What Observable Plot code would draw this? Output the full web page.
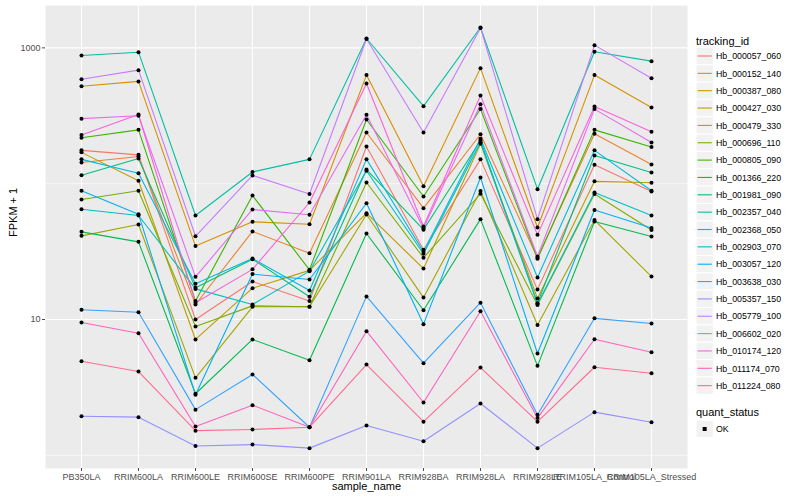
<!DOCTYPE html>
<html>
<head>
<meta charset="utf-8">
<script src="https://cdn.jsdelivr.net/npm/d3@7"></script>
<script src="https://cdn.jsdelivr.net/npm/@observablehq/plot@0.6"></script>
<style>
  html, body { margin: 0; padding: 0; background: white; }
  #wrap { position: relative; width: 800px; height: 500px; font-family: "Liberation Sans", Arial, sans-serif; }
  #chart { position: absolute; left: 0; top: 0; }
  #legend { position: absolute; left: 0; top: 0; }
</style>
</head>
<body>
<div id="wrap"><div id="chart"></div><svg id="legend" width="800" height="500"></svg></div>
<script>
const samples = ["PB350LA","RRIM600LA","RRIM600LE","RRIM600SE","RRIM600PE","RRIM901LA","RRIM928BA","RRIM928LA","RRIM928LE","RRIM105LA_Control","RRIM105LA_Stressed"];

const trackingIds = ["Hb_000057_060","Hb_000152_140","Hb_000387_080","Hb_000427_030","Hb_000479_330","Hb_000696_110","Hb_000805_090","Hb_001366_220","Hb_001981_090","Hb_002357_040","Hb_002368_050","Hb_002903_070","Hb_003057_120","Hb_003638_030","Hb_005357_150","Hb_005779_100","Hb_006602_020","Hb_010174_120","Hb_011174_070","Hb_011224_080"];

const hueColors = ["#F8766D","#EA8331","#D89000","#C09B00","#A3A500","#7CAE00","#39B600","#00BB4E","#00BF7D","#00C1A3","#00BFC4","#00BAE0","#00B0F6","#35A2FF","#9590FF","#C77CFF","#E76BF3","#FA62DB","#FF62BC","#FF6C91"];

// FPKM + 1 values, one array per tracking_id, in sample order
const hb_000057_060 = [176,163,10.0,19.05,13.7,188,32.6,151,16.6,138,87.6];
const hb_000152_140 = [143,158.5,12.9,44.5,30.8,238,66.0,231,28.4,233,138.5];
const hb_000387_080 = [522,566,34.7,52.4,50.3,630,95.9,709,47.6,630,364];
const hb_000427_030 = [170,105,7.13,17.0,23.0,60.6,23.7,197,14.3,104,101.5];
const hb_000479_330 = [41.3,50.1,3.72,12.4,12.4,59.3,14.5,88.4,9.11,54.0,20.7];
const hb_000696_110 = [76.5,88.6,8.88,12.6,12.4,102,28.5,84.3,12.8,84.0,45.6];
const hb_000805_090 = [218,249,13.7,81.8,23.2,297,80.5,355,28.0,249,186];
const hb_001366_220 = [44.2,37.3,2.84,7.13,5.02,43.0,11.7,54.8,4.56,52.7,40.8];
const hb_001981_090 = [115.5,153,17.1,27.8,14.7,127,45.8,208,13.2,161,121];
const hb_002357_040 = [879,929,58.3,122,151,1172,372,1413,91.1,936,798];
const hb_002368_050 = [64.9,58.3,16.8,12.9,22.7,124.5,30.5,202,13.0,86.1,58.3];
const hb_002903_070 = [151,119.5,18.3,28.1,16.35,151,31.5,214,20.4,176,88.6];
const hb_003057_120 = [88.6,59.6,2.79,21.6,19.7,71.8,9.24,111,5.62,64.0,47.2];
const hb_003638_030 = [11.8,11.3,2.17,3.94,1.61,14.8,4.77,13.3,1.99,10.2,9.35];
const hb_005357_150 = [1.94,1.91,1.17,1.20,1.13,1.66,1.27,2.41,1.13,2.08,1.75];
const hb_005779_100 = [588,685,41.0,115,84.0,1163,238,1401,54.8,1047,598];
const hb_006602_020 = [301,316,20.6,64.6,59.0,322,47.0,385,29.1,354,201];
const hb_010174_120 = [228,323,13.3,23.4,72.7,547,48.4,446,42.0,370,241];
const hb_011174_070 = [9.50,7.93,1.63,2.34,1.61,8.20,2.45,11.5,1.88,7.16,5.74];
const hb_011224_080 = [4.93,4.14,1.52,1.55,1.61,4.66,1.77,4.43,1.77,4.45,4.02];

const seriesValues = [hb_000057_060,hb_000152_140,hb_000387_080,hb_000427_030,hb_000479_330,hb_000696_110,hb_000805_090,hb_001366_220,hb_001981_090,hb_002357_040,hb_002368_050,hb_002903_070,hb_003057_120,hb_003638_030,hb_005357_150,hb_005779_100,hb_006602_020,hb_010174_120,hb_011174_070,hb_011224_080];

const yMajor = [10, 1000];
const yMinor = [1, 100];
const quantStatus = ["OK"];

const rows = trackingIds.flatMap((id, i) =>
  seriesValues[i].map((v, j) => ({tracking_id: id, sample_name: samples[j], fpkm: v, quant_status: "OK"})));

const font = "Liberation Sans, Arial, sans-serif";

const chart = Plot.plot({
  width: 690,
  height: 500,
  marginLeft: 45,
  marginRight: 3,
  marginTop: 5,
  marginBottom: 32,
  style: {fontFamily: font, background: "transparent", overflow: "visible"},
  x: {type: "point", domain: samples, padding: 0.6, label: null},
  y: {type: "log", domain: [0.8, 2050], label: null},
  color: {domain: trackingIds, range: hueColors},
  marks: [
    Plot.frame({fill: "#EBEBEB", stroke: null}),
    Plot.gridY(yMinor, {stroke: "white", strokeOpacity: 1, strokeWidth: 0.6}),
    Plot.gridY(yMajor, {stroke: "white", strokeOpacity: 1, strokeWidth: 1.1}),
    Plot.gridX(samples, {stroke: "white", strokeOpacity: 1, strokeWidth: 1.1}),
    Plot.line(rows, {x: "sample_name", y: "fpkm", z: "tracking_id", stroke: "tracking_id", strokeWidth: 1.1}),
    Plot.dot(rows, {x: "sample_name", y: "fpkm", fill: "black", stroke: null, r: 2}),
    Plot.axisY(yMajor, {tickSize: 3, tickPadding: 2, fontSize: 9, color: "#4D4D4D", tickFormat: d => String(d), label: null}),
    Plot.axisX({tickSize: 3, tickPadding: 2, fontSize: 9, color: "#4D4D4D", label: null}),
    Plot.text(["FPKM + 1"], {frameAnchor: "left", dx: -32, rotate: -90, fontSize: 11, fill: "black"}),
    Plot.text(["sample_name"], {frameAnchor: "bottom", dy: 21, fontSize: 11, fill: "black"})
  ]
});
document.getElementById("chart").appendChild(chart);

// Legend (ggplot-style, on the right)
const lg = d3.select("#legend").style("font-family", font);
const keyX = 696, keyW = 17.3, keyH = 17.35, firstY = 56;
lg.append("text").attr("x", 696).attr("y", 44.5).attr("font-size", 11).attr("fill", "black").text("tracking_id");
trackingIds.forEach((id, i) => {
  const cy = firstY + i * keyH;
  lg.append("rect").attr("x", keyX).attr("y", cy - keyH / 2).attr("width", keyW).attr("height", keyH)
    .attr("fill", "#F2F2F2").attr("stroke", "white").attr("stroke-width", 1);
  lg.append("line").attr("x1", keyX + 1.5).attr("x2", keyX + keyW - 1.5).attr("y1", cy).attr("y2", cy)
    .attr("stroke", hueColors[i]).attr("stroke-width", 1.1);
  lg.append("text").attr("x", 716).attr("y", cy + 3.2).attr("font-size", 8.8).attr("fill", "black").text(id);
});
lg.append("text").attr("x", 696).attr("y", 415.5).attr("font-size", 11).attr("fill", "black").text("quant_status");
quantStatus.forEach((s, i) => {
  const cy = 429 + i * keyH;
  lg.append("rect").attr("x", keyX).attr("y", cy - keyH / 2).attr("width", keyW).attr("height", keyH)
    .attr("fill", "#F2F2F2").attr("stroke", "white").attr("stroke-width", 1);
  lg.append("rect").attr("x", keyX + keyW / 2 - 2).attr("y", cy - 2).attr("width", 4).attr("height", 4).attr("fill", "black");
  lg.append("text").attr("x", 716).attr("y", cy + 3.2).attr("font-size", 8.8).attr("fill", "black").text(s);
});
</script>
</body>
</html>
